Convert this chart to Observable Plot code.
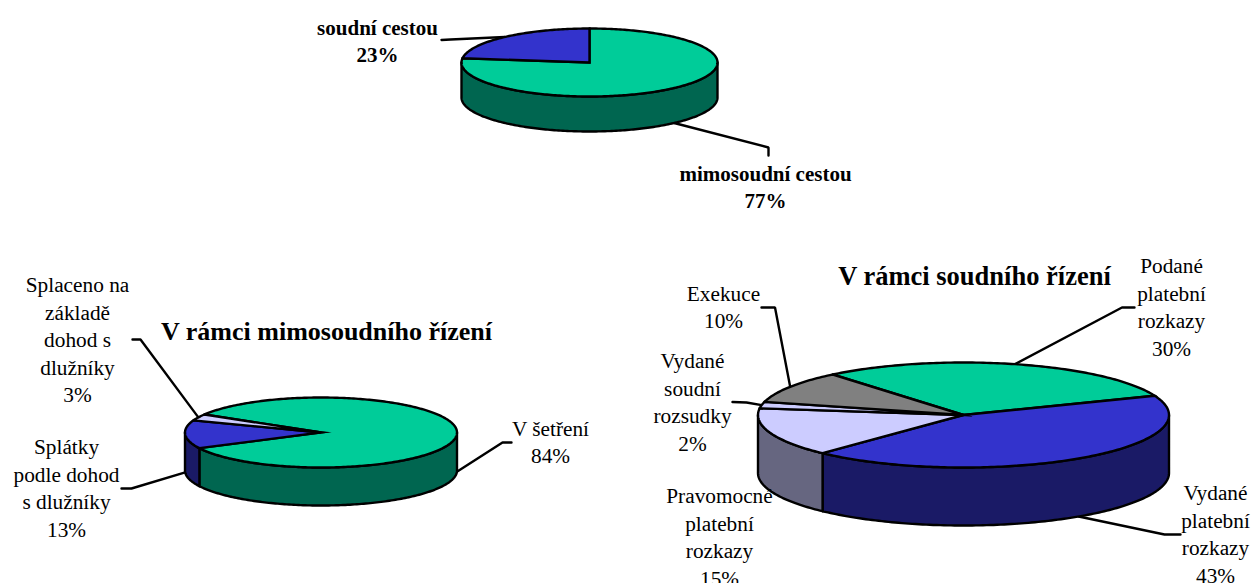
<!DOCTYPE html>
<html>
<head>
<meta charset="utf-8">
<script src="https://cdn.jsdelivr.net/npm/d3@7"></script>
<script src="https://cdn.jsdelivr.net/npm/@observablehq/plot@0.6"></script>
<style>
html,body{margin:0;padding:0;background:#fff;overflow:hidden}
svg{display:block}
</style>
</head>
<body>
<div id="chart"></div>
<script>
// Data
const wayLabels = ["mimosoudní cestou", "soudní cestou"];
const wayValues = [77, 23];
const outLabels = ["V šetření", "Splátky\npodle dohod\ns dlužníky", "Splaceno na\nzákladě\ndohod s\ndlužníky"];
const outValues = [84, 13, 3];
const courtLabels = ["Podané\nplatební\nrozkazy", "Vydané\nplatební\nrozkazy", "Pravomocné\nplatební\nrozkazy", "Vydané\nsoudní\nrozsudky", "Exekuce"];
const courtValues = [30, 43, 15, 2, 10];
const outTitle = "V rámci mimosoudního řízení";
const courtTitle = "V rámci soudního řízení";

// Styles
const GREEN = ["#00CC99", "#006650"];
const BLUE = ["#3333CC", "#1A1A66"];
const LAV = ["#CCCCFF", "#666680"];
const GRAY = ["#808080", "#404040"];
const SERIF = "'Liberation Serif','Times New Roman',serif";

// Layout: ellipse, start angle (deg clockwise from 12 o'clock), label anchor + leader elbow per slice
const pies = [
  {id:"way", labels:wayLabels, values:wayValues, cx:589, cy:62, rx:128, ry:34, depth:35, start:0, bold:true,
   colors:[GREEN, BLUE],
   text:[[765,185],[377,39]],
   elbow:[[[768,155],[768,147]], [[441,39.5],[450,39]]]},
  {id:"out", labels:outLabels, values:outValues, cx:320.5, cy:432, rx:136, ry:35, depth:38, start:301, bold:false,
   colors:[GREEN, BLUE, LAV],
   text:[[550,440],[66,486],[77,338]],
   elbow:[[[511,442],[502,442]], [[121,488],[131,488]], [[132,339],[140,339]]]},
  {id:"court", labels:courtLabels, values:courtValues, cx:963, cy:414.5, rx:205.5, ry:52.5, depth:58, start:320.5, bold:false,
   colors:[GREEN, BLUE, LAV, LAV, GRAY],
   text:[[1171,305],[1215,532],[719,535],[692,400],[723,305]],
   elbow:[[[1134,307],[1121.5,307]], [[1180,534],[1164,534]], null, [[732,401.5],[746,402]], [[761,307],[774.5,307]]]}
];

const rad = d => d * Math.PI / 180;
const pt = (p, a, dz = 0) => ({x: p.cx + p.rx * Math.sin(rad(a)), y: p.cy - p.ry * Math.cos(rad(a)) + dz});
const arc = (p, a0, a1, dz = 0) => {
  const n = Math.max(2, Math.ceil(Math.abs(a1 - a0)));
  return d3.range(n + 1).map(i => pt(p, a0 + (a1 - a0) * i / n, dz));
};

const sides = [], tops = [], leaders = [], labels = [];
for (const p of pies) {
  let a = p.start;
  p.values.forEach((v, i) => {
    const a0 = a, a1 = a + v * 3.6; a = a1;
    const [fill, side] = p.colors[i];
    // top face: retrace the first radius so that the apex gets a mitred join
    tops.push(...[pt(p, a0), ...arc(p, a0, a1), {x:p.cx, y:p.cy}, pt(p, a0)]
      .map(q => ({...q, z:`${p.id}-${i}`, fill})));
    // visible wall: the part of the slice between 90 and 270 degrees
    for (const k of [0, 360, -360]) {
      const b0 = Math.max(a0, 90 + k), b1 = Math.min(a1, 270 + k);
      if (b1 > b0) {
        const z = `${p.id}-${i}-${k}`;
        sides.push(...[...arc(p, b0, b1), ...arc(p, b1, b0, p.depth), pt(p, b0)]
          .map(q => ({...q, z, fill:side})));
      }
    }
    // leader from the slice's middle angle
    const mid = (a0 + a1) / 2, front = Math.cos(rad(mid)) < 0 || (Math.abs(Math.sin(rad(mid))) > 0.99);
    if (p.elbow[i]) {
      const from = pt(p, mid, front ? p.depth : 0);
      leaders.push(...[...p.elbow[i].map(([x, y]) => ({x, y})), from].map(q => ({...q, z:`${p.id}-${i}`})));
    }
    labels.push({x:p.text[i][0], y:p.text[i][1], t:`${p.labels[i]}\n${v}%`, bold:p.bold});
  });
}

const outTitleMark = [{x:326, y:331, t:outTitle}];
const courtTitleMark = [{x:974, y:276, t:courtTitle}];
const textOpts = {x:"x", y:"y", text:"t", fontFamily:SERIF, textAnchor:"middle", lineAnchor:"middle", fill:"#000", stroke:"none"};

const chart = Plot.plot({
  width:1251, height:583, margin:0,
  x:{domain:[0,1251], range:[0,1251], axis:null},
  y:{domain:[0,583], range:[0,583], axis:null},
  color:{type:"identity"},
  style:{background:"#fff"},
  marks:[
    Plot.line(leaders, {x:"x", y:"y", z:"z", stroke:"#000", strokeWidth:2.4, fill:"none", curve:"linear", strokeLinejoin:"miter"}),
    Plot.line(sides, {x:"x", y:"y", z:"z", fill:"fill", stroke:"#000", strokeWidth:2.4, curve:"linear", strokeLinejoin:"round"}),
    Plot.line(tops, {x:"x", y:"y", z:"z", fill:"fill", stroke:"#000", strokeWidth:2.4, curve:"linear", strokeLinejoin:"miter", strokeMiterlimit:11}),
    Plot.text(labels.filter(d => !d.bold), {...textOpts, fontSize:21.3, lineHeight:1.29}),
    Plot.text(labels.filter(d => d.bold), {...textOpts, fontSize:21, fontWeight:"bold", lineHeight:1.31}),
    Plot.text(outTitleMark, {...textOpts, fontSize:26, fontWeight:"bold"}),
    Plot.text(courtTitleMark, {...textOpts, fontSize:26.5, fontWeight:"bold"})
  ]
});
document.getElementById("chart").appendChild(chart);
</script>
</body>
</html>
